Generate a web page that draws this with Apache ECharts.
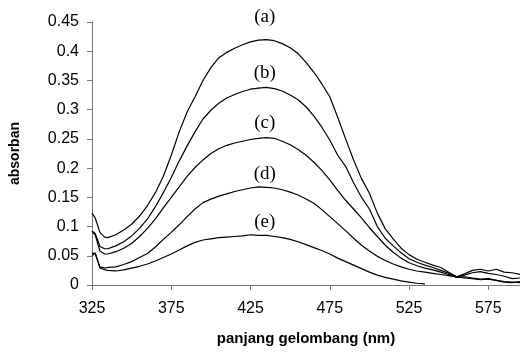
<!DOCTYPE html>
<html>
<head>
<meta charset="utf-8">
<script src="https://cdn.jsdelivr.net/npm/echarts@6/dist/echarts.min.js"></script>
<style>
html,body{margin:0;padding:0;background:#fff;}
#chart{width:520px;height:354px;}
</style>
</head>
<body>
<div id="chart"></div>
<script>
// wavelength (nm)
var wavelength = [325,327,330,333,335,340,345,350,355,360,365,370,375,380,385,390,395,400,405,410,415,420,425,430,435,440,445,450,455,460,465,470,475,480,485,490,495,500,505,510,515,520,525,530,535,540,545,550,555,560,565,570,575,580,585,590,595];
var seriesA = [0.123,0.115,0.090,0.082,0.081,0.086,0.094,0.104,0.118,0.136,0.158,0.186,0.222,0.262,0.296,0.322,0.350,0.372,0.389,0.398,0.405,0.411,0.416,0.419,0.420,0.418,0.413,0.406,0.396,0.381,0.364,0.344,0.322,0.287,0.250,0.214,0.182,0.157,0.123,0.096,0.079,0.063,0.052,0.044,0.039,0.034,0.030,0.022,0.014,0.019,0.025,0.027,0.024,0.027,0.022,0.021,0.018];
var seriesB = [0.092,0.088,0.066,0.062,0.062,0.067,0.074,0.084,0.097,0.113,0.134,0.158,0.184,0.212,0.238,0.262,0.284,0.299,0.311,0.320,0.326,0.331,0.335,0.337,0.338,0.336,0.332,0.325,0.317,0.305,0.289,0.270,0.248,0.222,0.203,0.175,0.150,0.130,0.100,0.080,0.067,0.055,0.045,0.039,0.034,0.030,0.025,0.020,0.014,0.017,0.021,0.023,0.020,0.018,0.015,0.011,0.012];
var seriesC = [0.092,0.086,0.058,0.053,0.053,0.057,0.063,0.071,0.083,0.097,0.113,0.132,0.150,0.168,0.186,0.201,0.214,0.225,0.233,0.239,0.243,0.246,0.249,0.251,0.252,0.251,0.246,0.240,0.232,0.222,0.210,0.196,0.180,0.162,0.145,0.130,0.115,0.098,0.083,0.068,0.056,0.046,0.038,0.033,0.029,0.026,0.022,0.018,0.013,0.014,0.012,0.010,0.011,0.008,0.005,0.004,0.006];
var seriesD = [0.054,0.054,0.031,0.029,0.030,0.031,0.035,0.040,0.047,0.054,0.065,0.078,0.090,0.103,0.117,0.130,0.141,0.147,0.152,0.156,0.160,0.163,0.166,0.168,0.167,0.166,0.163,0.159,0.154,0.147,0.140,0.129,0.117,0.105,0.093,0.080,0.068,0.058,0.049,0.042,0.036,0.031,0.027,0.024,0.022,0.020,0.018,0.016,0.014,0.012,0.011,0.009,0.010,0.008,0.006,0.005,0.004];
var seriesE = [0.050,0.055,0.029,0.026,0.025,0.024,0.026,0.029,0.032,0.036,0.041,0.047,0.053,0.060,0.067,0.073,0.077,0.079,0.081,0.082,0.083,0.084,0.086,0.085,0.085,0.083,0.081,0.078,0.074,0.069,0.064,0.059,0.053,0.046,0.040,0.034,0.028,0.022,0.017,0.013,0.010,0.007,0.005,0.003,0.002,null,null,null,null,null,null,null,null,null,null,null,null];
var curveLabels = ['(a)','(b)','(c)','(d)','(e)'];
var labelPos = [[434,0.458],[434,0.363],[434,0.277],[434,0.190],[434,0.108]];

function pairs(v){ return wavelength.map(function(w,i){ return [w, v[i]]; }); }
var all = [seriesA, seriesB, seriesC, seriesD, seriesE];

var chart = echarts.init(document.getElementById('chart'));
var font = '"Liberation Sans", Arial, sans-serif';
chart.setOption({
  animation:false,
  backgroundColor:'#fff',
  grid:{left:88, right:0, top:22, bottom:69},
  xAxis:{
    type:'value', min:325, max:595, interval:50,
    axisLine:{show:true, lineStyle:{color:'#777', width:1}},
    axisTick:{show:true, length:5, lineStyle:{color:'#777'}},
    splitLine:{show:false},
    axisLabel:{color:'#000', fontSize:16, fontFamily:font, margin:16, showMaxLabel:false},
    name:'panjang gelombang (nm)', nameLocation:'middle', nameGap:46,
    nameTextStyle:{color:'#000', fontSize:15, fontWeight:'bold', fontFamily:font}
  },
  yAxis:{
    type:'value', min:0, max:0.45, interval:0.05,
    axisLine:{show:true, lineStyle:{color:'#777', width:1}},
    axisTick:{show:true, length:5, lineStyle:{color:'#777'}},
    splitLine:{show:false},
    axisLabel:{color:'#000', fontSize:16, fontFamily:font, margin:13},
    name:'absorban', nameLocation:'middle', nameGap:70,
    nameTextStyle:{color:'#000', fontSize:14, fontWeight:'bold', fontFamily:font}
  },
  series: all.map(function(v){
    return {type:'line', data:pairs(v), showSymbol:false, symbol:'none', connectNulls:false,
      lineStyle:{color:'#000', width:1.2}, clip:false};
  })
});
var g = curveLabels.map(function(t,i){
  var p = chart.convertToPixel({gridIndex:0}, labelPos[i]);
  return {type:'text', x:p[0], y:p[1], style:{text:t, fill:'#000', font:'19px "Liberation Serif", "Times New Roman", serif', textAlign:'center', textVerticalAlign:'middle'}};
});
chart.setOption({graphic:g});
</script>
</body>
</html>
